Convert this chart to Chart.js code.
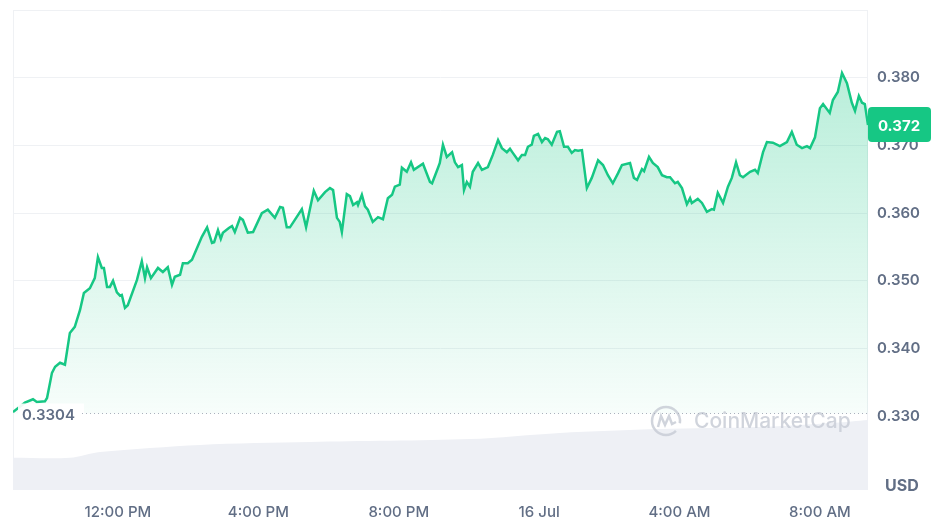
<!DOCTYPE html>
<html>
<head>
<meta charset="utf-8">
<script src="https://cdn.jsdelivr.net/npm/chart.js@4"></script>
<style>
  body { margin: 0; background: #fff; }
  canvas { display: block; }
</style>
</head>
<body>
<canvas id="priceChart" width="933" height="529"></canvas>
<script>
// hours relative to 12:00 PM, 15 Jul
const priceHours = [-2.99, -2.65, -2.42, -2.31, -2.08, -2.02, -1.88, -1.79, -1.65, -1.51,
  -1.37, -1.23, -1.08, -0.97, -0.80, -0.66, -0.57, -0.46, -0.40, -0.31,
  -0.23, -0.14, -0.03, 0.06, 0.11, 0.20, 0.28, 0.54, 0.68, 0.77,
  0.83, 0.94, 1.14, 1.28, 1.42, 1.54, 1.62, 1.77, 1.85, 1.99,
  2.11, 2.25, 2.39, 2.54, 2.68, 2.74, 2.85, 2.93, 2.99, 3.16,
  3.25, 3.33, 3.48, 3.56, 3.70, 3.85, 4.10, 4.27, 4.47, 4.62,
  4.70, 4.81, 4.90, 5.04, 5.24, 5.36, 5.58, 5.70, 5.90, 6.04,
  6.13, 6.24, 6.32, 6.38, 6.52, 6.61, 6.70, 6.81, 6.84, 6.95,
  7.04, 7.12, 7.26, 7.41, 7.55, 7.69, 7.81, 7.89, 8.03, 8.09,
  8.23, 8.35, 8.43, 8.69, 8.89, 8.95, 9.12, 9.17, 9.26, 9.37,
  9.52, 9.60, 9.69, 9.80, 9.86, 9.94, 10.03, 10.11, 10.26, 10.37,
  10.54, 10.68, 10.83, 10.94, 11.08, 11.17, 11.25, 11.40, 11.51, 11.60,
  11.68, 11.79, 11.85, 11.97, 12.08, 12.17, 12.25, 12.36, 12.51, 12.59,
  12.71, 12.82, 12.93, 13.02, 13.11, 13.22, 13.36, 13.50, 13.68, 13.82,
  13.96, 14.10, 14.25, 14.36, 14.59, 14.70, 14.79, 14.93, 14.99, 15.13,
  15.24, 15.38, 15.50, 15.64, 15.73, 15.87, 15.95, 16.07, 16.21, 16.30,
  16.35, 16.52, 16.64, 16.78, 16.92, 16.98, 17.09, 17.24, 17.38, 17.49,
  17.61, 17.72, 17.81, 18.01, 18.15, 18.23, 18.38, 18.49, 18.66, 18.86,
  19.06, 19.20, 19.34, 19.49, 19.63, 19.72, 19.86, 20.00, 20.09, 20.28,
  20.37, 20.51, 20.63, 20.77, 20.91, 21.00, 21.11, 21.20, 21.28, 21.37];

const priceValues = [0.3306, 0.3320, 0.3325, 0.3321, 0.3322, 0.3327, 0.3364, 0.3373, 0.3379, 0.3376,
  0.3423, 0.3432, 0.3457, 0.3482, 0.3489, 0.3504, 0.3535, 0.3519, 0.3519, 0.3491,
  0.3491, 0.3500, 0.3483, 0.3478, 0.3479, 0.3460, 0.3464, 0.3501, 0.3529, 0.3504,
  0.3520, 0.3504, 0.3519, 0.3513, 0.3520, 0.3494, 0.3506, 0.3509, 0.3526, 0.3526,
  0.3531, 0.3548, 0.3565, 0.3579, 0.3556, 0.3557, 0.3575, 0.3562, 0.3571, 0.3578,
  0.3581, 0.3572, 0.3593, 0.3590, 0.3571, 0.3572, 0.3600, 0.3605, 0.3593, 0.3609,
  0.3608, 0.3579, 0.3579, 0.3590, 0.3606, 0.3579, 0.3633, 0.3619, 0.3631, 0.3637,
  0.3634, 0.3593, 0.3587, 0.3572, 0.3628, 0.3625, 0.3612, 0.3616, 0.3612, 0.3627,
  0.3610, 0.3605, 0.3587, 0.3594, 0.3591, 0.3622, 0.3627, 0.3639, 0.3642, 0.3667,
  0.3661, 0.3675, 0.3664, 0.3673, 0.3646, 0.3644, 0.3667, 0.3674, 0.3701, 0.3683,
  0.3690, 0.3675, 0.3668, 0.3671, 0.3634, 0.3646, 0.3639, 0.3661, 0.3674, 0.3664,
  0.3668, 0.3686, 0.3708, 0.3696, 0.3690, 0.3695, 0.3689, 0.3678, 0.3686, 0.3686,
  0.3698, 0.3701, 0.3714, 0.3717, 0.3705, 0.3711, 0.3709, 0.3701, 0.3720, 0.3721,
  0.3698, 0.3698, 0.3689, 0.3693, 0.3692, 0.3693, 0.3637, 0.3652, 0.3678, 0.3671,
  0.3656, 0.3644, 0.3659, 0.3671, 0.3674, 0.3652, 0.3649, 0.3665, 0.3662, 0.3683,
  0.3674, 0.3668, 0.3656, 0.3653, 0.3653, 0.3644, 0.3646, 0.3637, 0.3613, 0.3622,
  0.3615, 0.3621, 0.3615, 0.3602, 0.3606, 0.3605, 0.3630, 0.3615, 0.3639, 0.3652,
  0.3675, 0.3656, 0.3653, 0.3661, 0.3664, 0.3659, 0.3690, 0.3705, 0.3704, 0.3699,
  0.3705, 0.3720, 0.3701, 0.3696, 0.3699, 0.3696, 0.3712, 0.3755, 0.3761, 0.3748,
  0.3767, 0.3779, 0.3807, 0.3792, 0.3763, 0.3751, 0.3773, 0.3763, 0.3761, 0.3730];

// volume band (relative units, own hidden axis)
const volumeHours = [-2.99, -1.37, -0.51, 2.34, 5.47, 10.03, 12.59, 15.44, 18.29, 20.43, 21.37];
const volumeValues = [6.7, 6.7, 7.9, 9.4, 10.0, 10.6, 11.9, 12.7, 13.1, 14.0, 14.6];

const tickHours = [0, 4, 8, 12, 16, 20];
const tickLabels = ['12:00 PM', '4:00 PM', '8:00 PM', '16 Jul', '4:00 AM', '8:00 AM'];
const yTicks = [0.33, 0.34, 0.35, 0.36, 0.37, 0.38, 0.39];

const openPrice = 0.3304;
const lastPrice = '0.372';

const green = '#16c784';
const labelGray = '#616e85';
const fontFamily = 'Inter, "Noto Sans", sans-serif';

// extra drawing: frame, open price line, watermark, labels
const overlay = {
  id: 'overlay',
  beforeDatasetsDraw(chart) {
    const { ctx, chartArea: a } = chart;
    ctx.save();
    // side frame lines
    ctx.strokeStyle = '#eff1f4';
    ctx.lineWidth = 1;
    ctx.beginPath();
    ctx.moveTo(a.left + 0.5, a.top); ctx.lineTo(a.left + 0.5, a.bottom);
    ctx.moveTo(a.right - 0.5, a.top); ctx.lineTo(a.right - 0.5, a.bottom);
    ctx.stroke();
    ctx.restore();
  },
  afterDatasetsDraw(chart) {
    const { ctx, chartArea: a, scales } = chart;
    const y0 = scales.y.getPixelForValue(openPrice);
    ctx.save();
    // watermark
    const cx = 666, cy = 421;
    ctx.strokeStyle = 'rgba(200,205,214,0.85)';
    ctx.lineWidth = 2.5;
    ctx.beginPath();
    ctx.arc(cx, cy, 14, 0.25 * Math.PI, 2.05 * Math.PI);
    ctx.stroke();
    ctx.beginPath();
    ctx.moveTo(cx - 8, cy + 6);
    ctx.lineTo(cx - 5, cy - 5);
    ctx.lineTo(cx - 1, cy + 4);
    ctx.lineTo(cx + 3, cy - 5);
    ctx.lineTo(cx + 6, cy + 3);
    ctx.lineTo(cx + 10, cy + 1);
    ctx.stroke();
    ctx.fillStyle = 'rgba(200,205,214,0.85)';
    ctx.font = '500 21px ' + fontFamily;
    ctx.textBaseline = 'middle';
    ctx.fillText('CoinMarketCap', 694, cy + 1);

    // label for open price
    ctx.fillStyle = 'rgba(255,255,255,0.92)';
    ctx.fillRect(a.left + 5, y0 - 10, 66, 21);
    ctx.fillStyle = labelGray;
    ctx.font = '600 15px ' + fontFamily;
    ctx.fillText(openPrice.toFixed(4), a.left + 9, y0 + 2);
    // dotted open price line
    ctx.strokeStyle = '#aab1bd';
    ctx.lineWidth = 1;
    ctx.setLineDash([1, 3]);
    ctx.beginPath();
    ctx.moveTo(a.left + 69, Math.round(y0) + 0.5);
    ctx.lineTo(a.right, Math.round(y0) + 0.5);
    ctx.stroke();
    ctx.restore();
  },
  afterDraw(chart) {
    const { ctx, chartArea: a, scales } = chart;
    ctx.save();
    // last price tag
    const yl = scales.y.getPixelForValue(priceValues[priceValues.length - 1]);
    ctx.fillStyle = green;
    ctx.beginPath();
    ctx.roundRect(a.right, yl - 18, 63, 35, 4);
    ctx.fill();
    ctx.fillStyle = '#fff';
    ctx.font = '700 15px ' + fontFamily;
    ctx.textAlign = 'center';
    ctx.textBaseline = 'middle';
    ctx.fillText(lastPrice, a.right + 31, yl + 1);
    // currency
    ctx.fillStyle = labelGray;
    ctx.font = '700 16px ' + fontFamily;
    ctx.textAlign = 'left';
    ctx.fillText('USD', 885, 486);
    ctx.restore();
  }
};

const canvas = document.getElementById('priceChart');

new Chart(canvas.getContext('2d'), {
  type: 'line',
  data: {
    datasets: [
      {
        label: 'Price',
        data: priceHours.map((h, i) => ({ x: h, y: priceValues[i] })),
        yAxisID: 'y',
        borderColor: green,
        borderWidth: 2.5,
        pointRadius: 0,
        tension: 0,
        fill: { value: openPrice },
        backgroundColor: (ctx) => {
          const area = ctx.chart.chartArea;
          if (!area) return 'rgba(22,199,132,0.2)';
          const g = ctx.chart.ctx.createLinearGradient(0, area.top + 60, 0, 416);
          g.addColorStop(0, 'rgba(22,199,132,0.30)');
          g.addColorStop(1, 'rgba(22,199,132,0.03)');
          return g;
        },
        order: 1,
      },
      {
        label: 'Volume',
        data: volumeHours.map((h, i) => ({ x: h, y: volumeValues[i] })),
        yAxisID: 'yv',
        borderWidth: 0,
        pointRadius: 0,
        tension: 0.3,
        fill: 'origin',
        backgroundColor: '#eef0f5',
        order: 2,
      },
    ],
  },
  options: {
    responsive: false,
    devicePixelRatio: 1,
    animation: false,
    layout: { padding: { left: 13, top: 10, right: 0, bottom: 0 } },
    plugins: { legend: { display: false }, tooltip: { enabled: false } },
    scales: {
      x: {
        type: 'linear',
        min: -2.99,
        max: 21.37,
        afterBuildTicks: (axis) => { axis.ticks = tickHours.map(v => ({ value: v })); },
        afterFit: (axis) => { axis.height = 39; axis.paddingLeft = 0; axis.paddingRight = 0; },
        grid: { display: false, drawTicks: false },
        border: { display: false },
        ticks: {
          autoSkip: false,
          maxRotation: 0,
          padding: 13,
          color: labelGray,
          font: { family: fontFamily, size: 15, weight: '500' },
          callback: (v) => tickLabels[tickHours.indexOf(v)],
        },
      },
      y: {
        position: 'right',
        min: 0.3191,
        max: 0.39,
        afterBuildTicks: (axis) => { axis.ticks = yTicks.map(v => ({ value: v })); },
        afterFit: (axis) => { axis.width = 65; axis.paddingTop = 0; axis.paddingBottom = 0; },
        grid: {
          drawTicks: false,
          lineWidth: 1,
          color: (ctx) => (ctx.tick && ctx.tick.value < 0.335 ? 'rgba(0,0,0,0)' : '#eff1f4'),
        },
        border: { display: false },
        ticks: {
          padding: 9,
          color: labelGray,
          font: { family: fontFamily, size: 15, weight: '600' },
          callback: (v) => (v > 0.385 ? '' : v.toFixed(3)),
        },
      },
      yv: {
        display: false,
        min: 0,
        max: 100,
      },
    },
  },
  plugins: [overlay],
});
</script>
</body>
</html>
